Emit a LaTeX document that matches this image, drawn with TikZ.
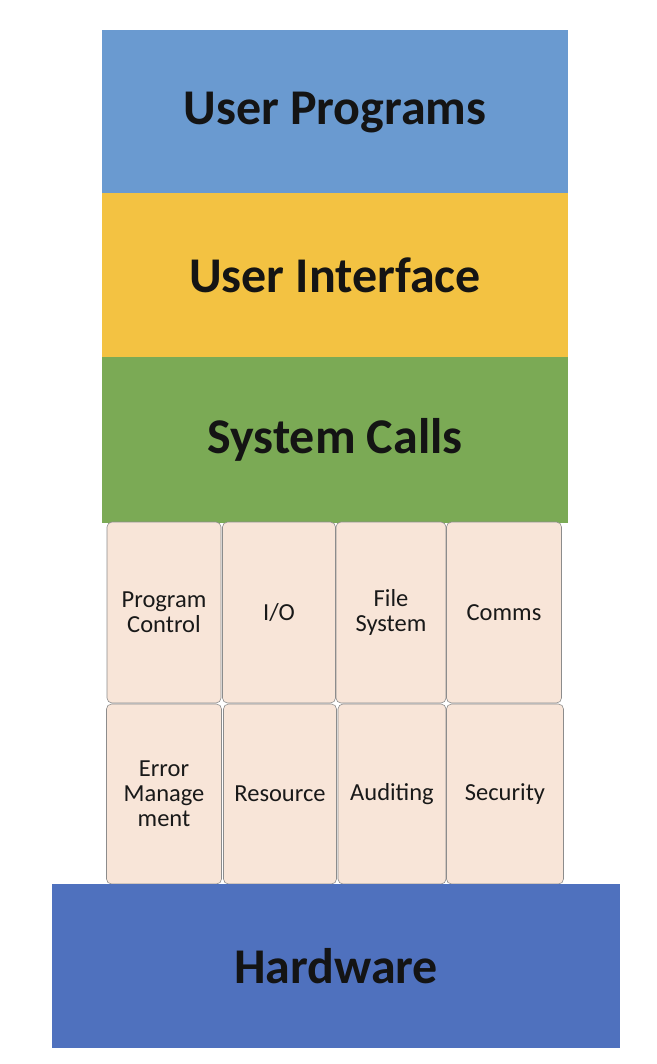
\documentclass[tikz,border=0pt]{standalone}
\usepackage{fontspec}
\setmainfont{Carlito}
\usepackage{tikz}

\definecolor{progblue}{HTML}{6A9AD0}
\definecolor{uiyellow}{HTML}{F3C242}
\definecolor{scgreen}{HTML}{7BAA55}
\definecolor{svcpeach}{HTML}{F8E5D8}
\definecolor{hwblue}{HTML}{4F71BE}

\tikzset{
  layer/.style={rectangle, inner sep=0pt, minimum width=466pt, minimum height=164pt,
    font=\fontsize{50}{54}\selectfont\bfseries, text=black!92},
  svcbox/.style={rectangle, rounded corners=5pt, draw=black!45, line width=0.6pt,
    fill=svcpeach, inner sep=0pt, align=center,
    font=\fontsize{24.5}{25}\selectfont, text=black!90}
}

\begin{document}
\begin{tikzpicture}[x=1pt, y=-1pt]
  \useasboundingbox (0,0) rectangle (656,1064);
  \node[layer, fill=progblue] (userprog) at (335,112.5) {User Programs};
  \node[layer, fill=uiyellow] (userif) at (335,275.5) {User Interface};
  \node[layer, fill=scgreen, minimum height=166pt] (syscalls) at (335,439.5) {System Calls};
  \foreach \cx/\w/\name/\lbl in {164/114/progctl/{Program\\Control}, 279/113/io/{I/O},
      391/110/filesys/{File\\System}, 504/115/comms/Comms}
    \node[svcbox, minimum width=\w pt, minimum height=181pt] (\name) at (\cx,612.5) {\lbl};
  \foreach \cx/\w/\name/\lbl in {164/115/errmgmt/{Error\\Manage\\ment}, 280/113/resource/Resource,
      392/108/auditing/Auditing, 505/117/security/Security}
    \node[svcbox, minimum width=\w pt, minimum height=180pt] (\name) at (\cx,794) {\lbl};
  \node[layer, fill=hwblue, minimum width=568pt] (hardware) at (336,966) {Hardware};
\end{tikzpicture}
\end{document}
